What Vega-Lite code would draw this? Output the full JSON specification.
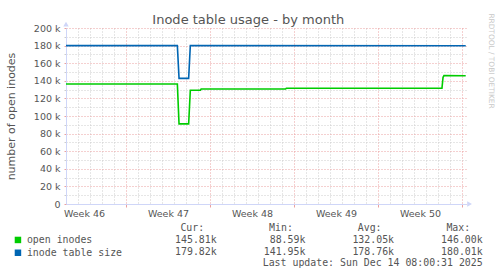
{
  "$schema": "https://vega.github.io/schema/vega-lite/v6.json",
  "width": 400,
  "height": 176,
  "autosize": "none",
  "padding": {"left": 66, "top": 28, "right": 31, "bottom": 72},
  "background": "#ffffff",
  "config": {
    "view": {"stroke": null},
    "axis": {"labelFont": "DejaVu Sans", "labelFontSize": 9.5, "labelColor": "#555555", "titleFont": "DejaVu Sans", "titleFontWeight": "normal", "titleColor": "#555555"},
    "text": {"font": "DejaVu Sans Mono", "fontSize": 9.9, "color": "#555555"}
  },
  "title": {"text": "Inode table usage - by month", "font": "DejaVu Sans", "fontSize": 13, "fontWeight": "normal", "color": "#555555", "dx": -17.7, "dy": 18},
  "datasets": {
    "series": [
      {"day": 0, "value": 136400, "series": "open inodes"},
      {"day": 9.28, "value": 136400, "series": "open inodes"},
      {"day": 9.42, "value": 91000, "series": "open inodes"},
      {"day": 10.22, "value": 91000, "series": "open inodes"},
      {"day": 10.36, "value": 129200, "series": "open inodes"},
      {"day": 11.2, "value": 129200, "series": "open inodes"},
      {"day": 11.26, "value": 130700, "series": "open inodes"},
      {"day": 18.3, "value": 130700, "series": "open inodes"},
      {"day": 18.36, "value": 131500, "series": "open inodes"},
      {"day": 31.33, "value": 131500, "series": "open inodes"},
      {"day": 31.42, "value": 144000, "series": "open inodes"},
      {"day": 31.5, "value": 146000, "series": "open inodes"},
      {"day": 33.31, "value": 145810, "series": "open inodes"},
      {"day": 0, "value": 180000, "series": "inode table size"},
      {"day": 9.28, "value": 180000, "series": "inode table size"},
      {"day": 9.42, "value": 142800, "series": "inode table size"},
      {"day": 10.22, "value": 142800, "series": "inode table size"},
      {"day": 10.36, "value": 180000, "series": "inode table size"},
      {"day": 33.31, "value": 179820, "series": "inode table size"}
    ],
    "table": [
      {"row": "header", "col": "Cur", "text": "Cur:"},
      {"row": "header", "col": "Min", "text": "Min:"},
      {"row": "header", "col": "Avg", "text": "Avg:"},
      {"row": "header", "col": "Max", "text": "Max:"},
      {"row": "open inodes", "col": "Cur", "text": "145.81k"},
      {"row": "open inodes", "col": "Min", "text": "88.59k"},
      {"row": "open inodes", "col": "Avg", "text": "132.05k"},
      {"row": "open inodes", "col": "Max", "text": "146.00k"},
      {"row": "inode table size", "col": "Cur", "text": "179.82k"},
      {"row": "inode table size", "col": "Min", "text": "141.95k"},
      {"row": "inode table size", "col": "Avg", "text": "178.76k"},
      {"row": "inode table size", "col": "Max", "text": "180.01k"},
      {"row": "update", "col": "Max", "text": "Last update: Sun Dec 14 08:00:31 2025"}
    ]
  },
  "layer": [
    {
      "layer": [
        {
          "data": {"name": "series"},
          "mark": {"type": "line", "strokeWidth": 1.6},
          "encoding": {
            "x": {
              "field": "day", "type": "quantitative",
              "scale": {"domain": [0, 33.333], "nice": false, "zero": false},
              "axis": {
                "title": null,
                "values": [0, 1, 1.5, 2, 3, 4, 5, 6, 7, 8, 8.5, 9, 10, 11, 12, 13, 14, 15, 15.5, 16, 17, 18, 19, 20, 21, 22, 22.5, 23, 24, 25, 26, 27, 28, 29, 29.5, 30, 31, 32, 33],
                "tickCount": 1000,
                "grid": true,
                "gridDash": [1, 2],
                "gridColor": {"condition": {"test": "(datum.value - 5) % 7 == 0", "value": "#eaa0a0"}, "value": "#cccccc"},
                "gridOpacity": {"condition": {"test": "datum.value % 1 != 0", "value": 0}, "value": 1},
                "ticks": true,
                "tickSize": 3,
                "tickColor": "#eaa0a0",
                "tickOpacity": {"condition": {"test": "(datum.value - 5) % 7 == 0", "value": 1}, "value": 0},
                "labelExpr": "datum.value % 7 == 1.5 ? 'Week ' + (46 + (datum.value - 1.5) / 7) : ''",
                "labelOverlap": false,
                "labelFlush": false,
                "labelPadding": 1,
                "domainColor": "#CFD6F8",
                "domainWidth": 1
              }
            },
            "y": {
              "field": "value", "type": "quantitative",
              "scale": {"domain": [0, 200000], "nice": false},
              "axis": {
                "title": "number of open inodes",
                "titleFontSize": 11,
                "titleAngle": -90,
                "titleX": -52,
                "titleY": 88,
                "titleAlign": "center",
                "titleBaseline": "alphabetic",
                "values": [0, 10000, 20000, 30000, 40000, 50000, 60000, 70000, 80000, 90000, 100000, 110000, 120000, 130000, 140000, 150000, 160000, 170000, 180000, 190000, 200000],
                "tickCount": 1000,
                "grid": true,
                "gridDash": [1, 2],
                "gridColor": {"condition": {"test": "datum.value % 20000 == 0", "value": "#eaa0a0"}, "value": "#cccccc"},
                "ticks": true,
                "tickSize": 2,
                "tickColor": {"condition": {"test": "datum.value % 20000 == 0", "value": "#eaa0a0"}, "value": "#cccccc"},
                "labelExpr": "datum.value % 20000 == 0 ? (datum.value == 0 ? '0' : (datum.value / 1000) + ' k') : ''",
                "labelOverlap": false,
                "labelPadding": 4,
                "domainColor": "#CFD6F8",
                "domainWidth": 1
              }
            },
            "color": {
              "field": "series", "type": "nominal",
              "scale": {"domain": ["open inodes", "inode table size"], "range": ["#00CC00", "#0066B3"]},
              "legend": {
                "title": null,
                "orient": "none",
                "legendX": -53,
                "legendY": 207,
                "direction": "vertical",
                "padding": 0,
                "symbolType": "square",
                "symbolSize": 42,
                "labelOffset": 4,
                "rowPadding": 1.8,
                "labelFont": "DejaVu Sans Mono",
                "labelFontSize": 9.9,
                "labelColor": "#555555",
                "encode": {"symbols": {"update": {"fill": {"scale": "color", "field": "value"}, "strokeWidth": {"value": 0}}}}
              }
            }
          }
        },
        {
          "data": {"values": [{}]},
          "mark": {"type": "point", "shape": "triangle-right", "filled": true, "color": "#CFD6F8", "opacity": 1, "size": 30, "clip": false},
          "encoding": {"x": {"datum": 33.63}, "y": {"datum": 0}}
        },
        {
          "data": {"values": [{}]},
          "mark": {"type": "point", "shape": "triangle-up", "filled": true, "color": "#CFD6F8", "opacity": 1, "size": 30, "clip": false},
          "encoding": {"x": {"datum": 0}, "y": {"datum": 204500}}
        }
      ]
    },
    {
      "data": {"name": "table"},
      "encoding": {
        "x": {"field": "col", "type": "nominal", "scale": {"type": "point", "domain": ["Cur", "Min", "Avg", "Max"], "range": [150.7, 416.7], "padding": 0}, "axis": null},
        "y": {
          "field": "row", "type": "nominal",
          "scale": {"type": "point", "domain": ["header", "open inodes", "inode table size", "update"], "range": [200, 235.3], "padding": 0},
          "axis": {
            "orient": "right",
            "labels": false, "ticks": false, "domain": false, "grid": false,
            "title": "RRDTOOL / TOBI OETIKER",
            "titleFontSize": 7.4,
            "titleColor": "#c8c8c8",
            "titleAngle": 90,
            "titleX": 24,
            "titleY": 32.5,
            "titleAlign": "center",
            "titleBaseline": "middle"
          }
        }
      },
      "layer": [
        {
          "transform": [{"filter": "datum.row != 'header'"}],
          "mark": {"type": "text", "align": "right", "baseline": "middle", "clip": false},
          "encoding": {"text": {"field": "text"}}
        },
        {
          "transform": [{"filter": "datum.row == 'header'"}],
          "mark": {"type": "text", "align": "right", "baseline": "middle", "dx": -12.5, "clip": false},
          "encoding": {"text": {"field": "text"}}
        }
      ]
    }
  ],
  "resolve": {"scale": {"x": "independent", "y": "independent"}}
}
